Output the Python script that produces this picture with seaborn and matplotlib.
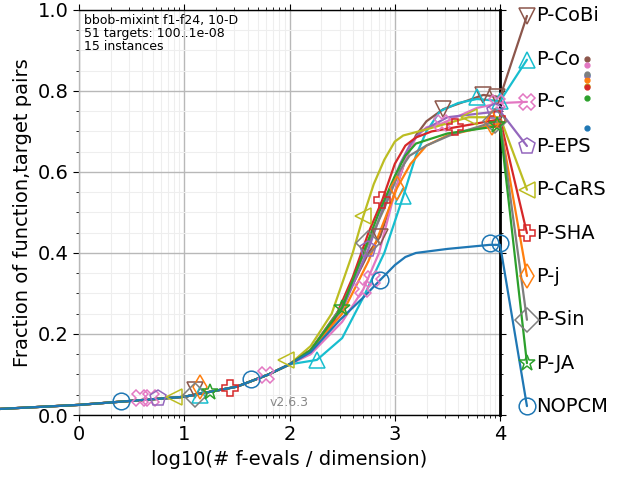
import numpy as np
import pandas as pd
import seaborn as sns
import matplotlib
matplotlib.use('Agg')
import matplotlib.pyplot as plt
from matplotlib.ticker import MultipleLocator, FixedLocator, FormatStrFormatter

# algorithms, in legend order (top to bottom)
names = ['P-CoBi', 'P-Co', 'P-c', 'P-EPS', 'P-CaRS', 'P-SHA', 'P-j', 'P-Sin', 'P-JA', 'NOPCM']
colors = ['#8c564b', '#17becf', '#e377c2', '#9467bd', '#bcbd22',
          '#d62728', '#ff7f0e', '#7f7f7f', '#2ca02c', '#1f77b4']
markers = ['v', '^', 'X', 'p', '<', 'P', 'd', 'D', '*', 'o']

# shared low-budget part of the ECDFs (log10 evals/dim, fraction)
base_x = [-0.75, 0.0, 0.5, 1.0, 1.5, 1.8, 2.0]
base_y = [0.015, 0.025, 0.035, 0.045, 0.07, 0.10, 0.125]

# per algorithm upper part
tail_x = {
    'P-CoBi': [2.2, 2.5, 2.75, 2.86, 3.0, 3.1, 3.2, 3.3, 3.46, 3.84, 4.0],
    'P-Co':   [2.26, 2.5, 2.7, 2.9, 3.08, 3.2, 3.3, 3.43, 3.6, 3.78, 4.0],
    'P-c':    [2.2, 2.5, 2.7, 2.85, 3.0, 3.1, 3.2, 3.3, 3.45, 3.78, 4.0],
    'P-EPS':  [2.2, 2.5, 2.75, 2.9, 3.05, 3.15, 3.25, 3.5, 4.0],
    'P-CaRS': [2.2, 2.4, 2.6, 2.7, 2.8, 2.9, 3.0, 3.08, 3.3, 3.7, 4.0],
    'P-SHA':  [2.2, 2.4, 2.6, 2.75, 2.88, 3.0, 3.1, 3.2, 3.35, 3.57, 4.0],
    'P-j':    [2.2, 2.5, 2.75, 2.9, 3.02, 3.15, 3.3, 3.5, 4.0],
    'P-Sin':  [2.2, 2.5, 2.75, 2.9, 3.05, 3.14, 3.3, 3.52, 3.9, 4.0],
    'P-JA':   [2.2, 2.5, 2.7, 2.85, 3.0, 3.1, 3.2, 3.5, 3.95, 4.0],
    'NOPCM':  [2.2, 2.48, 2.7, 2.86, 3.0, 3.1, 3.2, 3.5, 3.9, 4.0],
}
tail_y = {
    'P-CoBi': [0.16, 0.27, 0.40, 0.44, 0.55, 0.63, 0.69, 0.725, 0.755, 0.79, 0.785],
    'P-Co':   [0.136, 0.19, 0.29, 0.40, 0.54, 0.64, 0.70, 0.75, 0.77, 0.78, 0.775],
    'P-c':    [0.15, 0.23, 0.31, 0.40, 0.55, 0.63, 0.685, 0.71, 0.72, 0.758, 0.77],
    'P-EPS':  [0.16, 0.26, 0.41, 0.52, 0.62, 0.67, 0.70, 0.735, 0.75],
    'P-CaRS': [0.17, 0.25, 0.40, 0.49, 0.57, 0.63, 0.675, 0.69, 0.705, 0.735, 0.735],
    'P-SHA':  [0.16, 0.22, 0.34, 0.45, 0.53, 0.62, 0.665, 0.685, 0.70, 0.71, 0.73],
    'P-j':    [0.16, 0.25, 0.38, 0.48, 0.56, 0.62, 0.665, 0.69, 0.72],
    'P-Sin':  [0.16, 0.27, 0.425, 0.51, 0.605, 0.64, 0.665, 0.69, 0.72, 0.725],
    'P-JA':   [0.16, 0.265, 0.40, 0.50, 0.59, 0.64, 0.67, 0.695, 0.712, 0.715],
    'NOPCM':  [0.155, 0.235, 0.29, 0.333, 0.37, 0.39, 0.40, 0.41, 0.42, 0.42],
}

# marker positions along each curve
mark_x = {
    'P-CoBi': [1.10, 2.86, 3.46, 3.84, 3.97],
    'P-Co':   [1.15, 2.26, 3.08, 3.78, 4.0],
    'P-c':    [0.58, 0.68, 1.78, 2.70, 2.78, 3.45, 3.97],
    'P-EPS':  [0.75, 2.75, 3.95],
    'P-CaRS': [0.90, 1.97, 2.70, 3.70],
    'P-SHA':  [1.43, 2.88, 3.57, 3.97],
    'P-j':    [1.15, 3.02, 3.92],
    'P-Sin':  [1.10, 2.75, 3.95],
    'P-JA':   [1.24, 2.50, 3.97],
    'NOPCM':  [0.40, 1.63, 2.86, 3.90, 4.0],
}
mark_y = {
    'P-CoBi': [0.062, 0.44, 0.755, 0.79, 0.785],
    'P-Co':   [0.05, 0.136, 0.54, 0.785, 0.775],
    'P-c':    [0.042, 0.042, 0.099, 0.31, 0.335, 0.72, 0.77],
    'P-EPS':  [0.043, 0.41, 0.75],
    'P-CaRS': [0.045, 0.135, 0.49, 0.735],
    'P-SHA':  [0.066, 0.53, 0.71, 0.73],
    'P-j':    [0.07, 0.56, 0.72],
    'P-Sin':  [0.05, 0.425, 0.725],
    'P-JA':   [0.057, 0.265, 0.715],
    'NOPCM':  [0.035, 0.09, 0.333, 0.425, 0.425],
}

# label anchor heights right of the axes, and the small dots far right
label_y = [0.985, 0.877, 0.773, 0.664, 0.556, 0.449, 0.343, 0.235, 0.128, 0.022]
dot_y = [0.879, 0.840, 0.864, 0.837, 0.812, 0.810, 0.827, 0.842, 0.783, 0.709]

LABEL_X = 4.255
DOT_X = 4.83

sns.set_theme(style='white')
plt.rcParams['font.family'] = ['DejaVu Sans']
plt.rcParams['text.color'] = 'black'
plt.rcParams['axes.labelcolor'] = 'black'
plt.rcParams['xtick.color'] = 'black'
plt.rcParams['ytick.color'] = 'black'

fig = plt.figure(figsize=(6.4, 4.8), dpi=100)
ax = fig.add_axes([0.1234, 0.1354, 0.658, 0.844])

for i, name in enumerate(names):
    df = pd.DataFrame({'x': base_x + tail_x[name], 'y': base_y + tail_y[name]})
    sns.lineplot(data=df, x='x', y='y', ax=ax, color=colors[i], lw=1.6,
                 estimator=None, sort=False, clip_on=False, zorder=3)
    ax.plot(mark_x[name], mark_y[name], ls='none', marker=markers[i], ms=12,
            mfc='none', mec=colors[i], mew=1.1, clip_on=False, zorder=4)
    end_y = tail_y[name][-1]
    ax.plot([4.0, LABEL_X], [end_y, label_y[i]], color=colors[i], lw=1.6,
            clip_on=False, zorder=3)
    ax.plot([LABEL_X], [label_y[i]], ls='none', marker=markers[i], ms=12,
            mfc='none', mec=colors[i], mew=1.1, clip_on=False, zorder=4)
    ax.text(LABEL_X + 0.09, label_y[i], name, fontsize=14, va='center', ha='left',
            color='black')
    ax.plot([DOT_X], [dot_y[i]], ls='none', marker='o', ms=3.5, color=colors[i],
            clip_on=False, zorder=4)

ax.set_xlim(0, 4)
ax.set_ylim(0, 1)
ax.xaxis.set_major_locator(FixedLocator([0, 1, 2, 3, 4]))
ax.xaxis.set_major_formatter(FormatStrFormatter('%d'))
minor_x = [k + np.log10(m) for k in range(-1, 4) for m in range(2, 10)]
ax.xaxis.set_minor_locator(FixedLocator([v for v in minor_x if 0 < v < 4]))
ax.yaxis.set_major_locator(MultipleLocator(0.2))
ax.yaxis.set_major_formatter(FormatStrFormatter('%.1f'))
ax.yaxis.set_minor_locator(MultipleLocator(0.05))
ax.grid(True, which='major', color='#b8b8b8', lw=1.0)
ax.grid(True, which='minor', color='#eeeeee', lw=0.8)
ax.set_axisbelow(True)

ax.tick_params(which='both', direction='out', top=True, right=True,
               bottom=True, left=True, colors='black')
ax.tick_params(which='major', length=4, width=0.8, labelsize=14)
ax.tick_params(which='minor', length=2.5, width=0.6)

ax.spines['left'].set_color('#b8b8b8')
ax.spines['top'].set_color('black')
ax.spines['bottom'].set_color('black')
ax.spines['right'].set_color('black')
ax.spines['right'].set_linewidth(2.0)
for s in ['left', 'top', 'bottom']:
    ax.spines[s].set_linewidth(1.0)

ax.set_xlabel('log10(# f-evals / dimension)', fontsize=14, color='black')
ax.set_ylabel('Fraction of function,target pairs', fontsize=14, color='black')

ax.text(0.012, 0.99, 'bbob-mixint f1-f24, 10-D\n51 targets: 100..1e-08\n15 instances',
        transform=ax.transAxes, fontsize=9, va='top', ha='left', linespacing=1.0,
        color='black')
ax.text(0.5, 0.015, 'v2.6.3', transform=ax.transAxes, fontsize=9,
        color='#888888', ha='center', va='bottom')

fig.savefig('out.png', dpi=100)
